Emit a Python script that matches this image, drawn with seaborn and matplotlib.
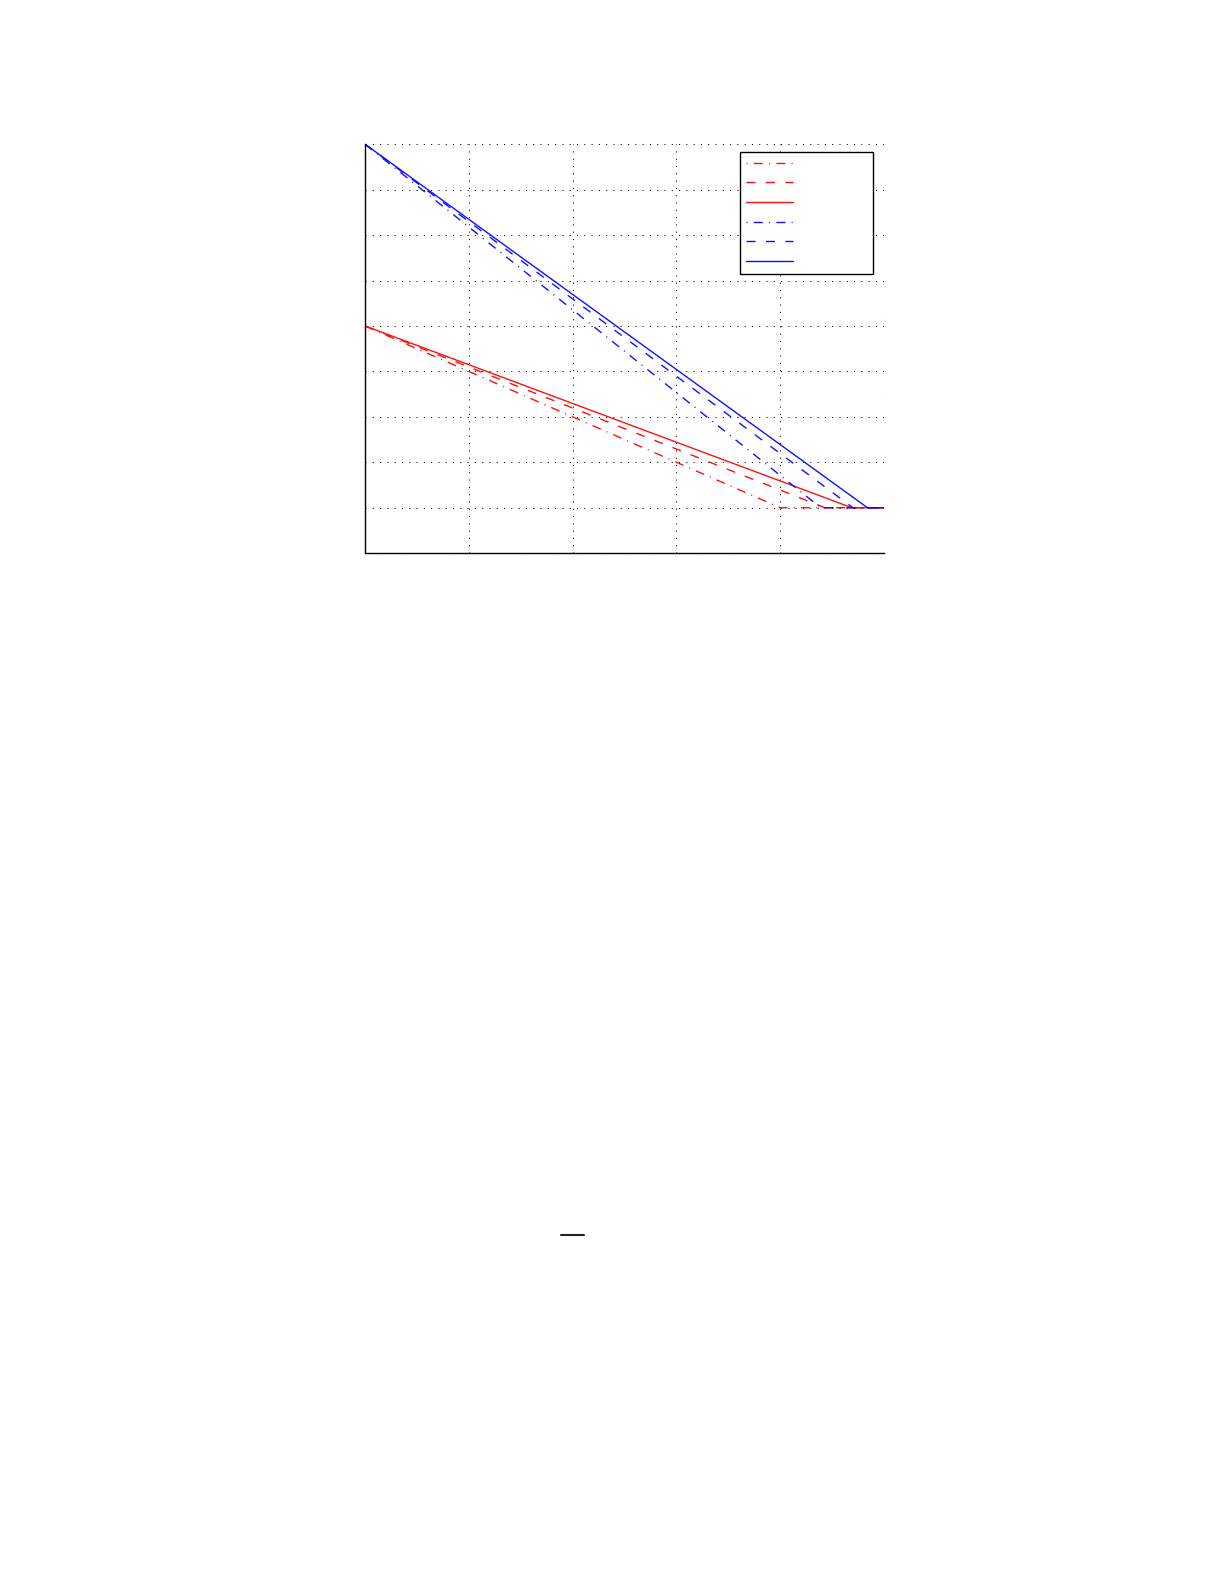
import numpy as np
import pandas as pd
import matplotlib
matplotlib.use("Agg")
import matplotlib.pyplot as plt
from matplotlib.lines import Line2D
import seaborn as sns

sns.set_style("white")

# series data
series_names = ["r_dashdot", "r_dashed", "r_solid", "b_dashdot", "b_dashed", "b_solid"]
start_vals = [5, 5, 5, 9, 9, 9]
floor_val = 1
floor_x = [4.00, 4.43, 4.69, 4.39, 4.70, 4.84]
x_max = 5
legend_labels = ["", "", "", "", "", ""]

colors = {"r_dashdot": "#ff1010", "r_dashed": "#ff1010", "r_solid": "#ff1010",
          "b_dashdot": "#1010ff", "b_dashed": "#1010ff", "b_solid": "#1010ff"}
dash_styles = {"r_dashdot": (6.5, 4.5, 0.75, 4.5), "r_dashed": (6.5, 7.5), "r_solid": "",
               "b_dashdot": (6.5, 4.5, 0.75, 4.5), "b_dashed": (6.5, 7.5), "b_solid": ""}

rows = []
for name, y0, xf in zip(series_names, start_vals, floor_x):
    for xv, yv in zip([0, xf, x_max], [y0, floor_val, floor_val]):
        rows.append({"series": name, "x": xv, "y": yv})
df = pd.DataFrame(rows)

fig = plt.figure(figsize=(12.25, 15.85), dpi=100)
ax = fig.add_axes([0.298, 0.651, 0.4237, 0.258])

sns.lineplot(data=df, x="x", y="y", hue="series", style="series",
             palette=colors, dashes=dash_styles, hue_order=series_names,
             style_order=series_names, linewidth=1.0, sort=False,
             estimator=None, legend=False, ax=ax)

ax.set_xlim(0, 5)
ax.set_ylim(0, 9)
ax.set_xticks(np.arange(0, 6, 1))
ax.set_yticks(np.arange(0, 10, 1))
ax.set_xticklabels([])
ax.set_yticklabels([])
ax.set_xlabel("")
ax.set_ylabel("")
ax.grid(True, color="black", linestyle=(0, (1, 6)), linewidth=0.75)
ax.tick_params(direction="in", length=3, width=0.8, color="black",
               top=False, right=False)
for side in ["top", "right"]:
    ax.spines[side].set_visible(False)
for side in ["left", "bottom"]:
    ax.spines[side].set_color("black")
    ax.spines[side].set_linewidth(1.0)

# legend handles, dash-dot ones start on the dot like in the picture
handles = []
for n in series_names:
    d = dash_styles[n]
    if d == "":
        ls = "-"
    elif len(d) == 4:
        ls = (d[0] + d[1], d)
    else:
        ls = (0, d)
    handles.append(Line2D([], [], color=colors[n], linewidth=1.0, linestyle=ls))

leg = ax.legend(handles, legend_labels, loc="upper left",
                bbox_to_anchor=(0.7225, 0.0, 0.2565, 0.982),
                mode="expand", fontsize=9, handlelength=3.76,
                labelspacing=0.53, borderpad=0.45, borderaxespad=0,
                fancybox=False, framealpha=1, edgecolor="black")
leg.get_frame().set_linewidth(1.0)

# short bar left over on the page below the plot
fig.add_artist(Line2D([0.458, 0.4767], [0.2208, 0.2208], color="#222222",
                      linewidth=1.5, transform=fig.transFigure))

fig.savefig("out.png", dpi=100, facecolor="white")
